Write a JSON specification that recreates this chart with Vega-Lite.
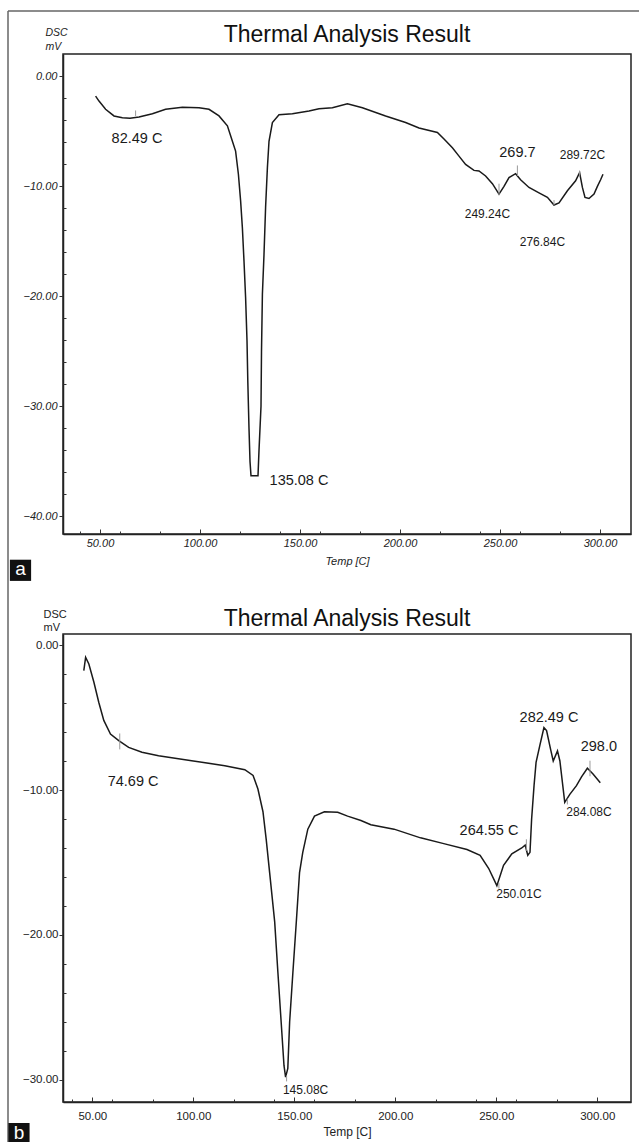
{
  "$schema": "https://vega.github.io/schema/vega-lite/v6.json",
  "description": "DSC thermograms, two panels",
  "padding": {"left": 6, "top": 9, "right": 0, "bottom": 0},
  "background": "white",
  "spacing": 100,
  "bounds": "flush",
  "vconcat": [
    {
      "width": 568,
      "height": 480,
      "title": {
        "text": "Thermal Analysis Result",
        "font": "Liberation Sans",
        "fontSize": 23,
        "fontWeight": "normal",
        "color": "#111",
        "offset": -37
      },
      "resolve": {"axis": {"x": "independent", "y": "independent"}},
      "layer": [
        {
          "data": {
            "values": [
              {"temp": 47.8, "dsc": -1.8}, {"temp": 49.5, "dsc": -2.25}, {"temp": 52.8, "dsc": -3.0},
              {"temp": 57, "dsc": -3.6}, {"temp": 61.2, "dsc": -3.76}, {"temp": 65, "dsc": -3.8},
              {"temp": 69.5, "dsc": -3.7}, {"temp": 76.2, "dsc": -3.4}, {"temp": 82.8, "dsc": -3.0},
              {"temp": 91.2, "dsc": -2.8}, {"temp": 99.5, "dsc": -2.85}, {"temp": 104.5, "dsc": -3.0},
              {"temp": 109.5, "dsc": -3.6}, {"temp": 113.7, "dsc": -4.5}, {"temp": 116.2, "dsc": -5.9},
              {"temp": 117.8, "dsc": -6.8}, {"temp": 119.2, "dsc": -8.9}, {"temp": 120.3, "dsc": -11.3},
              {"temp": 121.2, "dsc": -13.8}, {"temp": 122, "dsc": -16.8}, {"temp": 122.8, "dsc": -20.1},
              {"temp": 123.5, "dsc": -24}, {"temp": 123.9, "dsc": -27.7}, {"temp": 124.5, "dsc": -32},
              {"temp": 125, "dsc": -35}, {"temp": 125.5, "dsc": -36.3}, {"temp": 129, "dsc": -36.3},
              {"temp": 129.5, "dsc": -34}, {"temp": 130.5, "dsc": -30}, {"temp": 130.75, "dsc": -25},
              {"temp": 131.2, "dsc": -19.8}, {"temp": 132, "dsc": -16.2}, {"temp": 132.8, "dsc": -11.9},
              {"temp": 133.7, "dsc": -8.3}, {"temp": 134.5, "dsc": -5.9}, {"temp": 136.2, "dsc": -4.2},
              {"temp": 139.5, "dsc": -3.5}, {"temp": 146.2, "dsc": -3.4}, {"temp": 154.5, "dsc": -3.15},
              {"temp": 159.5, "dsc": -2.95}, {"temp": 166.2, "dsc": -2.85}, {"temp": 173.7, "dsc": -2.5},
              {"temp": 181.2, "dsc": -2.85}, {"temp": 192.8, "dsc": -3.6}, {"temp": 202.8, "dsc": -4.2},
              {"temp": 209.5, "dsc": -4.7}, {"temp": 218.7, "dsc": -5.1}, {"temp": 222, "dsc": -5.7},
              {"temp": 226.2, "dsc": -6.5}, {"temp": 229.5, "dsc": -7.25}, {"temp": 232.8, "dsc": -8.0},
              {"temp": 237, "dsc": -8.55}, {"temp": 239.5, "dsc": -8.6}, {"temp": 242.8, "dsc": -9.06},
              {"temp": 246.2, "dsc": -9.76}, {"temp": 249.5, "dsc": -10.7}, {"temp": 252, "dsc": -10.0},
              {"temp": 254.5, "dsc": -9.2}, {"temp": 257.8, "dsc": -8.85}, {"temp": 260.3, "dsc": -9.4},
              {"temp": 264.5, "dsc": -10.1}, {"temp": 269.5, "dsc": -10.6}, {"temp": 273.7, "dsc": -11.0},
              {"temp": 277, "dsc": -11.7}, {"temp": 279.5, "dsc": -11.5}, {"temp": 283.7, "dsc": -10.4},
              {"temp": 287.8, "dsc": -9.5}, {"temp": 289.8, "dsc": -8.76}, {"temp": 291.2, "dsc": -10.1},
              {"temp": 292.5, "dsc": -11.0}, {"temp": 294.5, "dsc": -11.1}, {"temp": 297, "dsc": -10.7},
              {"temp": 298.7, "dsc": -10.0}, {"temp": 300.3, "dsc": -9.4}, {"temp": 301.5, "dsc": -8.9}
            ]
          },
          "mark": {"type": "line", "color": "#1a1a1a", "strokeWidth": 1.5, "clip": true},
          "encoding": {
            "x": {
              "field": "temp",
              "type": "quantitative",
              "scale": {"domain": [31.5, 315.5], "nice": false, "zero": false},
              "axis": {
                "orient": "bottom",
                "title": "Temp [C]",
                "values": [50, 100, 150, 200, 250, 300],
                "format": ".2f",
                "tickSize": -5,
                "labelPadding": 14,
                "labelBaseline": "middle",
                "labelFont": "Liberation Sans",
                "labelFontStyle": "italic",
                "labelFontSize": 11,
                "titleFont": "Liberation Sans",
                "titleFontStyle": "italic",
                "titleFontWeight": "normal",
                "titleFontSize": 11,
                "titleBaseline": "middle",
                "titleY": 27
              }
            },
            "y": {
              "field": "dsc",
              "type": "quantitative",
              "scale": {"domain": [-41.6, 2.03], "nice": false, "zero": false},
              "axis": {
                "orient": "left",
                "title": ["DSC", "mV"],
                "values": [0, -10, -20, -30, -40],
                "format": ".2f",
                "tickSize": 4,
                "labelPadding": 2,
                "labelFont": "Liberation Sans",
                "labelFontStyle": "italic",
                "labelFontSize": 11,
                "titleFont": "Liberation Sans",
                "titleFontStyle": "italic",
                "titleFontWeight": "normal",
                "titleFontSize": 10.5,
                "titleAngle": 0,
                "titleAlign": "left",
                "titleBaseline": "alphabetic",
                "titleLineHeight": 14,
                "titleX": -18,
                "titleY": -19
              }
            }
          }
        },
        {
          "data": {
            "values": [
              {"temp": 67.8, "top": -3.1, "bottom": -3.6},
              {"temp": 249.5, "top": -9.76, "bottom": -10.8},
              {"temp": 258.7, "top": -8.1, "bottom": -9.06},
              {"temp": 277, "top": -11.25, "bottom": -11.7},
              {"temp": 289.8, "top": -8.6, "bottom": -9.15}
            ]
          },
          "mark": {"type": "rule", "color": "#9a9a9a", "strokeWidth": 1},
          "encoding": {
            "x": {
              "field": "temp",
              "type": "quantitative",
              "axis": {
                "orient": "bottom",
                "title": null,
                "labels": false,
                "domain": false,
                "values": [40, 60, 80, 120, 140, 160, 180, 220, 240, 260, 280],
                "tickSize": -3
              }
            },
            "y": {
              "field": "top",
              "type": "quantitative",
              "axis": {
                "orient": "left",
                "title": null,
                "labels": false,
                "domain": false,
                "values": [-2, -4, -6, -8, -12, -14, -16, -18, -22, -24, -26, -28, -32, -34, -36, -38],
                "tickSize": -3
              }
            },
            "y2": {"field": "bottom"}
          }
        },
        {
          "data": {"values": [{"frame": "outer"}]},
          "mark": {"type": "rule", "color": "#666", "strokeWidth": 1.5},
          "encoding": {"x": {"datum": 4, "axis": null}, "x2": {"datum": 319.5}, "y": {"datum": 5.94, "axis": null}}
        },
        {
          "data": {"values": [{"frame": "outer"}]},
          "mark": {"type": "rule", "color": "#666", "strokeWidth": 1.5},
          "encoding": {"x": {"datum": 4, "axis": null}, "y": {"datum": 5.94, "axis": null}, "y2": {"datum": -98}}
        },
        {
          "data": {
            "values": [
              {"temp": 68.5, "dsc": -5.7, "label": "82.49 C"},
              {"temp": 149.5, "dsc": -36.8, "label": "135.08 C"},
              {"temp": 258.7, "dsc": -6.95, "label": "269.7"}
            ]
          },
          "mark": {"type": "text", "font": "Liberation Sans", "fontSize": 14.5, "color": "#1a1a1a", "align": "center", "baseline": "middle"},
          "encoding": {
            "x": {"field": "temp", "type": "quantitative", "axis": null},
            "y": {"field": "dsc", "type": "quantitative", "axis": null},
            "text": {"field": "label"}
          }
        },
        {
          "data": {
            "values": [
              {"temp": 243.7, "dsc": -12.55, "label": "249.24C"},
              {"temp": 271.2, "dsc": -15.1, "label": "276.84C"},
              {"temp": 291.2, "dsc": -7.15, "label": "289.72C"}
            ]
          },
          "mark": {"type": "text", "font": "Liberation Sans", "fontSize": 12, "color": "#1a1a1a", "align": "center", "baseline": "middle"},
          "encoding": {
            "x": {"field": "temp", "type": "quantitative", "axis": null},
            "y": {"field": "dsc", "type": "quantitative", "axis": null},
            "text": {"field": "label"}
          }
        },
        {
          "data": {"values": [{"panel": "a"}]},
          "mark": {"type": "square", "size": 450, "color": "#111", "filled": true, "opacity": 1},
          "encoding": {"x": {"datum": 10.25, "axis": null}, "y": {"datum": -44.9, "axis": null}}
        },
        {
          "data": {"values": [{"panel": "a"}]},
          "mark": {"type": "text", "font": "Liberation Sans", "fontSize": 19, "color": "white", "align": "center", "baseline": "middle", "dy": -1},
          "encoding": {"x": {"datum": 10.25, "axis": null}, "y": {"datum": -44.9, "axis": null}, "text": {"field": "panel"}}
        }
      ]
    },
    {
      "width": 568,
      "height": 468,
      "title": {
        "text": "Thermal Analysis Result",
        "font": "Liberation Sans",
        "fontSize": 23,
        "fontWeight": "normal",
        "color": "#111",
        "offset": -23
      },
      "resolve": {"axis": {"x": "independent", "y": "independent"}},
      "layer": [
        {
          "data": {
            "values": [
              {"temp": 45.8, "dsc": -1.77}, {"temp": 46.7, "dsc": -0.85}, {"temp": 48.3, "dsc": -1.31},
              {"temp": 50.8, "dsc": -2.57}, {"temp": 53.2, "dsc": -3.95}, {"temp": 55.7, "dsc": -5.2},
              {"temp": 59, "dsc": -6.14}, {"temp": 63.1, "dsc": -6.6}, {"temp": 68, "dsc": -7.06},
              {"temp": 74.6, "dsc": -7.4}, {"temp": 82.8, "dsc": -7.63}, {"temp": 99.2, "dsc": -7.98},
              {"temp": 115.6, "dsc": -8.32}, {"temp": 125.5, "dsc": -8.6}, {"temp": 129.6, "dsc": -9.0},
              {"temp": 132, "dsc": -9.93}, {"temp": 134.5, "dsc": -11.5}, {"temp": 136.1, "dsc": -13.4},
              {"temp": 137.8, "dsc": -15.7}, {"temp": 140.3, "dsc": -19.1}, {"temp": 141.9, "dsc": -22.6},
              {"temp": 143.5, "dsc": -26.0}, {"temp": 144.9, "dsc": -29.0}, {"temp": 145.7, "dsc": -29.8},
              {"temp": 146.8, "dsc": -29.2}, {"temp": 147.7, "dsc": -26.0}, {"temp": 149.3, "dsc": -22.6},
              {"temp": 151, "dsc": -19.1}, {"temp": 152.6, "dsc": -15.7}, {"temp": 154.2, "dsc": -14.3},
              {"temp": 156.7, "dsc": -12.7}, {"temp": 160, "dsc": -11.8}, {"temp": 164.9, "dsc": -11.5},
              {"temp": 171.5, "dsc": -11.54}, {"temp": 176.4, "dsc": -11.8}, {"temp": 183, "dsc": -12.1},
              {"temp": 187.9, "dsc": -12.4}, {"temp": 199.4, "dsc": -12.7}, {"temp": 212.5, "dsc": -13.3},
              {"temp": 224, "dsc": -13.7}, {"temp": 235.5, "dsc": -14.1}, {"temp": 242, "dsc": -14.5},
              {"temp": 246.2, "dsc": -15.4}, {"temp": 250.3, "dsc": -16.6}, {"temp": 253.6, "dsc": -15.2},
              {"temp": 257.7, "dsc": -14.4}, {"temp": 262.6, "dsc": -14.0}, {"temp": 264.3, "dsc": -13.8},
              {"temp": 265.6, "dsc": -14.5}, {"temp": 266.7, "dsc": -14.3}, {"temp": 267.5, "dsc": -12.0},
              {"temp": 268.7, "dsc": -9.7}, {"temp": 269.7, "dsc": -8.1}, {"temp": 271.6, "dsc": -6.9},
              {"temp": 273.6, "dsc": -5.7}, {"temp": 274.9, "dsc": -5.9}, {"temp": 276.9, "dsc": -7.2},
              {"temp": 278.2, "dsc": -8.0}, {"temp": 280.3, "dsc": -7.3}, {"temp": 281.5, "dsc": -8.0},
              {"temp": 283.9, "dsc": -10.85}, {"temp": 286.4, "dsc": -10.3}, {"temp": 289.7, "dsc": -9.7},
              {"temp": 292.2, "dsc": -9.1}, {"temp": 295.1, "dsc": -8.5}, {"temp": 297.9, "dsc": -8.9},
              {"temp": 301.5, "dsc": -9.5}
            ]
          },
          "mark": {"type": "line", "color": "#1a1a1a", "strokeWidth": 1.5, "clip": true},
          "encoding": {
            "x": {
              "field": "temp",
              "type": "quantitative",
              "scale": {"domain": [35.5, 316.7], "nice": false, "zero": false},
              "axis": {
                "orient": "bottom",
                "title": "Temp [C]",
                "values": [50, 100, 150, 200, 250, 300],
                "format": ".2f",
                "tickSize": -5,
                "labelPadding": 19,
                "labelBaseline": "middle",
                "labelFont": "Liberation Sans",
                "labelFontSize": 11.5,
                "titleFont": "Liberation Sans",
                "titleFontWeight": "normal",
                "titleFontSize": 12,
                "titleBaseline": "middle",
                "titleY": 29
              }
            },
            "y": {
              "field": "dsc",
              "type": "quantitative",
              "scale": {"domain": [-31.52, 0.76], "nice": false, "zero": false},
              "axis": {
                "orient": "left",
                "title": ["DSC", "mV"],
                "values": [0, -10, -20, -30],
                "format": ".2f",
                "tickSize": 4,
                "labelPadding": 1,
                "labelFont": "Liberation Sans",
                "labelFontSize": 11.5,
                "titleFont": "Liberation Sans",
                "titleFontWeight": "normal",
                "titleFontSize": 11,
                "titleAngle": 0,
                "titleAlign": "left",
                "titleBaseline": "alphabetic",
                "titleLineHeight": 13,
                "titleX": -20,
                "titleY": -17
              }
            }
          }
        },
        {
          "data": {
            "values": [
              {"temp": 63.6, "top": -6.1, "bottom": -7.2},
              {"temp": 146.2, "top": -29.7, "bottom": -30.1},
              {"temp": 251.3, "top": -16.4, "bottom": -16.8},
              {"temp": 264.9, "top": -13.4, "bottom": -14.2},
              {"temp": 285.2, "top": -10.6, "bottom": -11.0},
              {"temp": 296.4, "top": -7.98, "bottom": -9.05}
            ]
          },
          "mark": {"type": "rule", "color": "#9a9a9a", "strokeWidth": 1},
          "encoding": {
            "x": {
              "field": "temp",
              "type": "quantitative",
              "axis": {
                "orient": "bottom",
                "title": null,
                "labels": false,
                "domain": false,
                "values": [40, 60, 80, 120, 140, 160, 180, 220, 240, 260, 280],
                "tickSize": -3
              }
            },
            "y": {
              "field": "top",
              "type": "quantitative",
              "axis": {
                "orient": "left",
                "title": null,
                "labels": false,
                "domain": false,
                "values": [-2, -4, -6, -8, -12, -14, -16, -18, -22, -24, -26, -28],
                "tickSize": -3
              }
            },
            "y2": {"field": "bottom"}
          }
        },
        {
          "data": {
            "values": [
              {"temp": 70.2, "dsc": -9.43, "label": "74.69 C"},
              {"temp": 246.4, "dsc": -12.8, "label": "264.55 C"},
              {"temp": 276.1, "dsc": -5.06, "label": "282.49 C"},
              {"temp": 300.8, "dsc": -7.06, "label": "298.0"}
            ]
          },
          "mark": {"type": "text", "font": "Liberation Sans", "fontSize": 14.5, "color": "#1a1a1a", "align": "center", "baseline": "middle"},
          "encoding": {
            "x": {"field": "temp", "type": "quantitative", "axis": null},
            "y": {"field": "dsc", "type": "quantitative", "axis": null},
            "text": {"field": "label"}
          }
        },
        {
          "data": {
            "values": [
              {"temp": 155.6, "dsc": -30.67, "label": "145.08C"},
              {"temp": 261.2, "dsc": -17.2, "label": "250.01C"},
              {"temp": 295.9, "dsc": -11.5, "label": "284.08C"}
            ]
          },
          "mark": {"type": "text", "font": "Liberation Sans", "fontSize": 12, "color": "#1a1a1a", "align": "center", "baseline": "middle"},
          "encoding": {
            "x": {"field": "temp", "type": "quantitative", "axis": null},
            "y": {"field": "dsc", "type": "quantitative", "axis": null},
            "text": {"field": "label"}
          }
        },
        {
          "data": {"values": [{"panel": "b"}]},
          "mark": {"type": "square", "size": 450, "color": "#111", "filled": true, "opacity": 1},
          "encoding": {"x": {"datum": 13.7, "axis": null}, "y": {"datum": -33.7, "axis": null}}
        },
        {
          "data": {"values": [{"panel": "b"}]},
          "mark": {"type": "text", "font": "Liberation Sans", "fontSize": 19, "color": "white", "align": "center", "baseline": "middle", "dy": -1},
          "encoding": {"x": {"datum": 13.7, "axis": null}, "y": {"datum": -33.7, "axis": null}, "text": {"field": "panel"}}
        }
      ]
    }
  ],
  "config": {
    "view": {"stroke": "#222", "strokeWidth": 1.5},
    "axis": {
      "grid": false,
      "labelOverlap": false,
      "labelBound": false,
      "domainColor": "#222",
      "domainWidth": 1.5,
      "tickColor": "#333",
      "tickWidth": 1,
      "labelColor": "#222",
      "titleColor": "#222"
    }
  }
}
